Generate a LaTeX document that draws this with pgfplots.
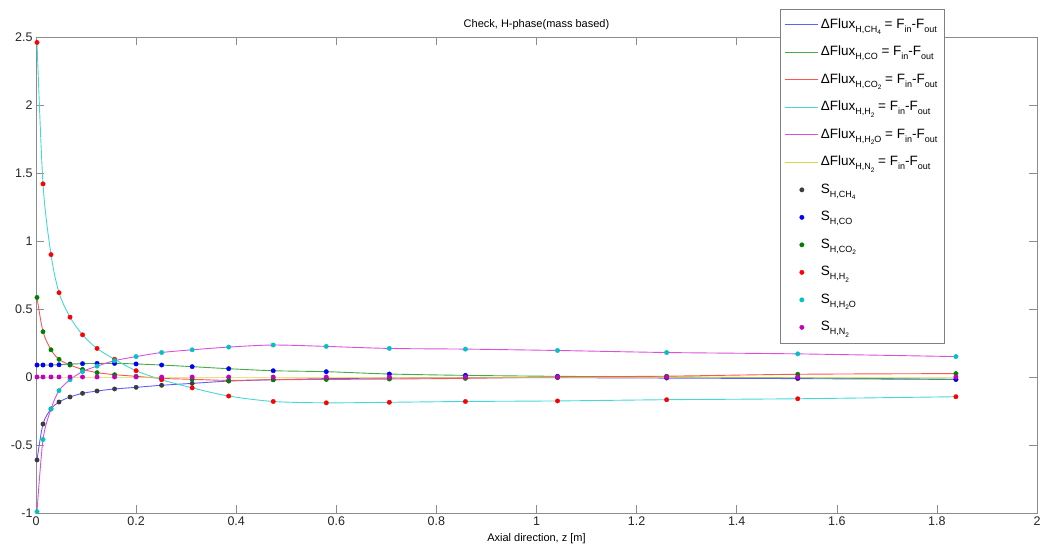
\documentclass[border=0pt]{standalone}
\usepackage{fontspec}
\setmainfont{Liberation Sans}
\usepackage{pgfplots}
\usepackage{pgfplotstable}
\pgfplotsset{compat=1.18}

% line colours (thin, a bit washed out as in the original)
\definecolor{lblue}{RGB}{95,95,255}
\definecolor{lgreen}{RGB}{70,170,70}
\definecolor{lred}{RGB}{255,85,85}
\definecolor{lcyan}{RGB}{70,215,215}
\definecolor{lmag}{RGB}{220,80,220}
\definecolor{lyel}{RGB}{215,215,70}
% marker colours
\definecolor{mblack}{RGB}{60,60,60}
\definecolor{mblue}{RGB}{0,0,255}
\definecolor{mgreen}{RGB}{0,128,0}
\definecolor{mred}{RGB}{255,0,0}
\definecolor{mcyan}{RGB}{0,195,195}
\definecolor{mmag}{RGB}{195,0,195}

\newcommand\sub[1]{\raisebox{-0.6ex}{\fontsize{9}{10}\selectfont #1}}
\newcommand\subb[1]{\raisebox{-0.5ex}{\fontsize{6.5}{7}\selectfont #1}}

% columns: lines (flux) and markers (source) share the same values
\pgfplotstableread{
z      ch4     co      co2     h2      h2o     n2
0.002  -0.610  0.088   0.585   2.46   -0.990   0
0.014  -0.346  0.088   0.333   1.42   -0.460   0
0.030  -0.235  0.088   0.200   0.90   -0.235   0
0.046  -0.184  0.090   0.130   0.62   -0.100   0
0.068  -0.147  0.095   0.088   0.44   -0.020   0
0.093  -0.120  0.098   0.056   0.31    0.040   0
0.122  -0.103  0.100   0.032   0.21    0.080   0
0.157  -0.088  0.100   0.017   0.13    0.120   0
0.200  -0.076  0.096   0.005   0.046   0.150   0
0.251  -0.061  0.088  -0.010  -0.020   0.180   0
0.312  -0.047  0.076  -0.017  -0.080   0.200   0
0.385  -0.030  0.061  -0.025  -0.140   0.220   0
0.474  -0.020  0.046  -0.020  -0.180   0.235   0
0.580  -0.012  0.039  -0.018  -0.190   0.225   0
0.706  -0.008  0.022  -0.015  -0.186   0.210   0
0.858  -0.005  0.012  -0.010  -0.180   0.205   0
1.042  -0.005  0.005   0.000  -0.176   0.195   0
1.260  -0.008  0.000   0.006  -0.167   0.180   0
1.522  -0.012 -0.006   0.020  -0.160   0.170   0
1.838  -0.018 -0.017   0.025  -0.145   0.150   0
}\data

\begin{document}
\begin{tikzpicture}
\useasboundingbox (-36pt,-32pt) rectangle (1005pt,513pt);
\begin{axis}[
  at={(0pt,0pt)}, anchor=south west,
  scale only axis, width=1001pt, height=476pt,
  xmin=0, xmax=2, ymin=-1, ymax=2.5,
  xtick={0,0.2,0.4,0.6,0.8,1,1.2,1.4,1.6,1.8,2},
  ytick={-1,-0.5,0,0.5,1,1.5,2,2.5},
  tick align=inside, major tick length=8pt,
  axis line style={gray!90}, every tick/.style={gray!90},
  /pgf/number format/assume math mode=true,
  tick label style={font=\fontsize{12.5}{14}\selectfont, text=black!85},
  title={Check, H-phase(mass based)},
  title style={font=\fontsize{11}{13}\selectfont, yshift=-2pt},
  xlabel={Axial direction, z [m]},
  xlabel style={font=\fontsize{11}{13}\selectfont, yshift=-1pt},
  legend cell align=left,
  legend image code/.code={\draw[mark repeat=2,mark phase=2,#1] plot coordinates {(0pt,0pt) (16.5pt,0pt) (33pt,0pt)};},
  legend style={at={(0.743,1.059)}, anchor=north west, draw=gray, fill=white,
    font=\fontsize{13.5}{15}\selectfont, inner xsep=5pt, inner ysep=2pt,
    nodes={text height=15pt, text depth=8.5pt, inner sep=2pt}},
]
\addplot[lblue, line width=0.9pt, smooth, no markers] table[x=z,y=ch4] {\data};
\addlegendentry{ΔFlux\sub{H,CH\subb{4}} = F\sub{in}-F\sub{out}}
\addplot[lgreen, line width=0.9pt, smooth, no markers] table[x=z,y=co] {\data};
\addlegendentry{ΔFlux\sub{H,CO} = F\sub{in}-F\sub{out}}
\addplot[lred, line width=0.9pt, smooth, no markers] table[x=z,y=co2] {\data};
\addlegendentry{ΔFlux\sub{H,CO\subb{2}} = F\sub{in}-F\sub{out}}
\addplot[lcyan, line width=0.9pt, smooth, no markers] table[x=z,y=h2] {\data};
\addlegendentry{ΔFlux\sub{H,H\subb{2}} = F\sub{in}-F\sub{out}}
\addplot[lmag, line width=0.9pt, smooth, no markers] table[x=z,y=h2o] {\data};
\addlegendentry{ΔFlux\sub{H,H\subb{2}O} = F\sub{in}-F\sub{out}}
\addplot[lyel, line width=0.9pt, smooth, no markers] table[x=z,y=n2] {\data};
\addlegendentry{ΔFlux\sub{H,N\subb{2}} = F\sub{in}-F\sub{out}}

\addplot[only marks, mark=*, mark size=2.2pt, mark options={draw=mblack, fill=mblack}] table[x=z,y=ch4] {\data};
\addlegendentry{S\sub{H,CH\subb{4}}}
\addplot[only marks, mark=*, mark size=2.2pt, mark options={draw=mblue, fill=mblue}] table[x=z,y=co] {\data};
\addlegendentry{S\sub{H,CO}}
\addplot[only marks, mark=*, mark size=2.2pt, mark options={draw=mgreen, fill=mgreen}] table[x=z,y=co2] {\data};
\addlegendentry{S\sub{H,CO\subb{2}}}
\addplot[only marks, mark=*, mark size=2.2pt, mark options={draw=mred, fill=mred}] table[x=z,y=h2] {\data};
\addlegendentry{S\sub{H,H\subb{2}}}
\addplot[only marks, mark=*, mark size=2.2pt, mark options={draw=mcyan, fill=mcyan}] table[x=z,y=h2o] {\data};
\addlegendentry{S\sub{H,H\subb{2}O}}
\addplot[only marks, mark=*, mark size=2.2pt, mark options={draw=mmag, fill=mmag}] table[x=z,y=n2] {\data};
\addlegendentry{S\sub{H,N\subb{2}}}
\end{axis}
\end{tikzpicture}
\end{document}
